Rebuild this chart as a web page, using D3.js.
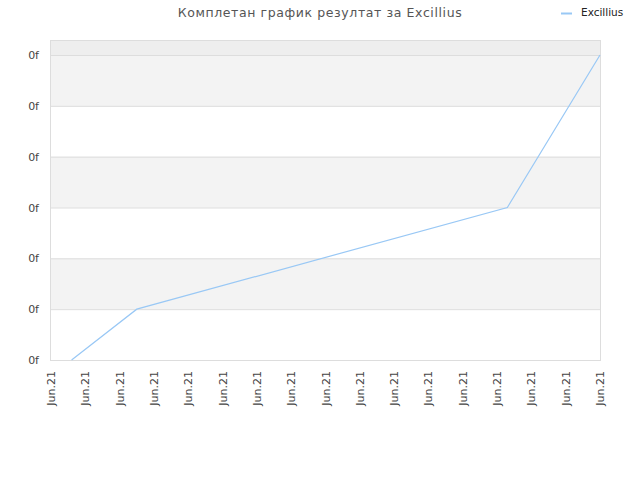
<!DOCTYPE html>
<html lang="mk">
<head>
<meta charset="utf-8">
<title>Excillius</title>
<script src="https://cdnjs.cloudflare.com/ajax/libs/d3/7.8.5/d3.min.js"></script>
<style>
  body { margin: 0; background: #fff; }
  text { font-family: "DejaVu Sans", sans-serif; }
</style>
</head>
<body>
<svg id="chart" width="640" height="480"></svg>
<script>
const title = "Комплетан график резултат за Excillius";
const seriesName = "Excillius";
const xTickLabels = d3.range(17).map(() => "Jun.21");
const yTickValues = [0, 1, 2, 3, 4, 5, 6];
const yTickLabels = ["0f", "0f", "0f", "0f", "0f", "0f", "0f"];
// positions along the x axis in tick units, and values
const pointX = [0.6, 2.5, 13.3, 16];
const pointY = [0, 1, 3, 6];

const svg = d3.select("#chart");
const plotLeft = 51, plotRight = 600, plotTop = 40, plotBottom = 360;

const x = d3.scaleLinear().domain([0, 16]).range([plotLeft, plotRight]);
const y = d3.scaleLinear().domain([0, 6]).range([plotBottom, 55]);

// plot background
svg.append("rect")
  .attr("x", plotLeft).attr("y", plotTop)
  .attr("width", plotRight - plotLeft).attr("height", plotBottom - plotTop)
  .attr("fill", "#eeeeee");

// alternating bands
yTickValues.slice(0, -1).forEach((v, i) => {
  svg.append("rect")
    .attr("x", plotLeft).attr("y", y(v + 1))
    .attr("width", plotRight - plotLeft).attr("height", y(v) - y(v + 1))
    .attr("fill", i % 2 === 0 ? "#ffffff" : "#f3f3f3");
});

// gridlines
svg.selectAll("line.grid")
  .data(yTickValues)
  .enter().append("line")
  .attr("class", "grid")
  .attr("x1", plotLeft).attr("x2", plotRight)
  .attr("y1", d => y(d) + 0.5).attr("y2", d => y(d) + 0.5)
  .attr("stroke", "#dddddd");

// frame
svg.append("rect")
  .attr("x", plotLeft - 0.5).attr("y", plotTop + 0.5)
  .attr("width", plotRight - plotLeft + 1).attr("height", plotBottom - plotTop)
  .attr("fill", "none")
  .attr("stroke", "#dddddd");

// y labels
svg.selectAll("text.ylab")
  .data(yTickValues)
  .enter().append("text")
  .attr("class", "ylab")
  .attr("x", 39)
  .attr("y", d => y(d) + 4)
  .attr("text-anchor", "end")
  .attr("font-size", 11)
  .attr("fill", "#444")
  .text((d, i) => yTickLabels[i]);

// x labels
svg.selectAll("text.xlab")
  .data(xTickLabels)
  .enter().append("text")
  .attr("class", "xlab")
  .attr("transform", (d, i) => `translate(${x(i) + 4},${plotBottom + 11}) rotate(-90)`)
  .attr("text-anchor", "end")
  .attr("font-size", 11)
  .attr("fill", "#444")
  .text(d => d);

// line
const pts = pointX.map((d, i) => [x(d), y(pointY[i])]);
svg.append("path")
  .attr("d", d3.line()(pts))
  .attr("fill", "none")
  .attr("stroke", "#99c8f5")
  .attr("stroke-width", 1.2);

// title
svg.append("text")
  .attr("x", 320).attr("y", 17)
  .attr("text-anchor", "middle")
  .attr("font-size", 12.5)
  .attr("letter-spacing", 0.6)
  .attr("fill", "#555")
  .text(title);

// legend
svg.append("line")
  .attr("x1", 561).attr("x2", 572)
  .attr("y1", 13.5).attr("y2", 13.5)
  .attr("stroke", "#99c8f5")
  .attr("stroke-width", 2);
svg.append("text")
  .attr("x", 581).attr("y", 16)
  .attr("font-size", 10.5)
  .attr("fill", "#222")
  .text(seriesName);
</script>
</body>
</html>
